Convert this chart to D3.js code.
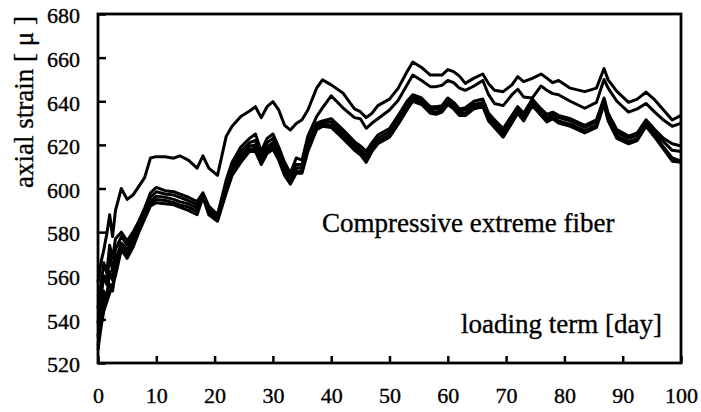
<!DOCTYPE html>
<html>
<head>
<meta charset="utf-8">
<script src="https://cdn.jsdelivr.net/npm/d3@7"></script>
<style>
body { margin: 0; background: #fff; }
text { font-family: "Liberation Serif", "Times New Roman", serif; fill: #000; stroke: #000; stroke-width: 0.35px; }
</style>
</head>
<body>
<div id="strain_chart"></div>
<script>
// loading term [day] of every reading (shared by all gauges)
const days = [0, 0.5, 1, 1.5, 2, 2.5, 3, 4, 5, 6, 7, 8, 9, 10,
  11.5, 13, 14, 15.5, 17, 18, 19, 20.5,
  22, 23, 24.5, 26, 27, 28, 29, 30, 31, 32, 33, 34, 35, 36, 37.5, 38.5,
  40, 42, 44, 45, 46, 47, 48, 50, 51.5, 53, 54, 55.5, 57, 58, 59, 60,
  61, 62, 63, 64.5, 66, 67, 68, 69.5, 71, 72, 73, 74.5, 76, 77, 78, 79,
  81, 83.5, 85.5, 86.8, 87.5, 89, 91, 92.5, 94,
  95.5, 97, 98.5, 100]

// axial strain of each gauge
const gaugeA = [557, 566, 572, 579, 588, 578, 590, 600, 595, 597, 601, 605, 614, 614.6,
  614.6, 613.9, 615, 613, 609.3, 615, 609.3, 606,
  624, 628.5, 633, 635.5, 637.5, 632.5, 637.5, 639.8, 636, 629, 626.8, 629.8, 631.5, 636, 646, 649.8,
  647.5, 643.8, 636.5, 635.2, 632.5, 634.5, 638, 641, 646, 653.5, 658, 655.5, 652, 652, 652, 654.5,
  653.6, 651.5, 648.2, 650.6, 652.5, 648, 645, 644.4, 647.5, 651.3, 649, 650.5, 652.5, 650.6, 648.5, 649.5,
  646, 644.4, 646, 655, 649.8, 644.5, 639.5, 641, 644.2,
  640.6, 636, 631.4, 633.5]
const gaugeB = [545, 556, 566, 561, 574, 568, 577, 580, 576, 580, 585, 591, 598, 600.5,
  599, 598.5, 597.5, 596, 594, 598, 592, 588,
  604, 612, 619, 623, 625, 617, 623, 625, 619, 612, 607, 614, 613, 624, 633, 637,
  642.5, 637, 632.5, 632, 627.6, 630, 632, 636, 640.5, 647.5, 652, 649.5, 646.7, 646.7, 647.3, 649.5,
  648.5, 646, 645, 647, 649.5, 643, 639, 638, 643, 645.5, 642, 641.5, 647, 645, 643.5, 643,
  640, 636.8, 639.5, 650, 646, 640, 635, 636.5, 639,
  635, 631.4, 628.5, 630]
const gaugeC = [538, 550, 560, 556, 570, 562, 572, 578, 574, 578, 583, 589, 596, 598.5,
  597.5, 597, 596, 594.5, 592.5, 597.5, 591, 587.5,
  602, 610, 617, 621, 622, 615, 621, 623, 617, 610, 605, 611, 611, 621, 630, 631,
  632, 627, 621.5, 619.5, 617, 621, 624.5, 627.5, 633.5, 640, 643, 641.5, 637.5, 637.5, 638, 641.5,
  639.5, 636.5, 637, 640, 641, 634.5, 631.5, 627.5, 633.5, 637.5, 634.5, 641, 636.5, 634, 635, 633.5,
  632, 629, 631.5, 641.5, 634.5, 627, 624, 625.5, 631.5,
  627, 623, 620.5, 619.5]
const gaugeD = [532, 545, 553, 550, 562, 558, 567, 575, 572, 576, 582, 588, 594, 596.5,
  596, 595, 594, 593, 591, 597, 590, 586.5,
  600.5, 608.5, 615, 619.5, 620, 613.5, 619, 621, 615.5, 608.5, 603.5, 609.5, 609.5, 619.5, 629, 630.5,
  630.5, 625.5, 620, 618, 615, 619.5, 623, 626, 632, 638.5, 642, 640.5, 636.5, 636.5, 637, 640.5,
  638.5, 635.5, 636, 638.5, 639.5, 633.5, 630.5, 626, 632.5, 636.5, 633.5, 640, 635.5, 632.5, 634, 632.5,
  631, 628, 630.5, 640.5, 633.5, 625.5, 623, 624.5, 630.5,
  625.5, 621.5, 617.5, 617]
const gaugeE = [528, 540, 548, 552, 556, 553, 562, 574, 570, 575, 581, 587, 593, 595,
  594.5, 593.5, 592.5, 591.5, 589.5, 596.5, 589, 586,
  599, 607, 613.5, 618, 618.5, 612, 617.5, 619.5, 614, 607, 602.5, 608, 608, 618, 628, 629.5,
  629, 624, 618.5, 616.5, 613.5, 618, 621.5, 624.5, 630.5, 637, 641, 639.5, 635.5, 635, 636, 639.5,
  637.5, 634.5, 634.5, 637.5, 638.5, 632, 629, 624.5, 631, 635.5, 632, 639, 634.5, 631.5, 633, 631,
  629.5, 626.5, 629, 639.5, 632, 624, 621.5, 623, 629.5,
  624.5, 619, 614, 612.5]
const gaugeF = [526, 536, 544, 548, 552, 556, 560, 572, 568, 573, 580, 586, 592, 593.5,
  593, 592.5, 591.5, 590, 588, 596, 588, 585,
  598, 606, 612, 617, 617, 611, 616, 618, 613, 606, 602, 607, 607, 617, 627, 628.5,
  628, 623, 617.5, 615.5, 612, 617, 620.5, 623.5, 629.5, 636, 640, 638.5, 634.5, 634, 635, 638.5,
  636.5, 633.5, 633.5, 636.5, 637.5, 631, 628, 623.5, 630, 634.5, 631, 638, 633.5, 630.5, 632, 630,
  628.5, 625.5, 628, 638.5, 631, 623, 620.5, 622, 628.5,
  623.5, 618, 612.5, 612]

const xTicks = [0, 10, 20, 30, 40, 50, 60, 70, 80, 90, 100]
const yTicks = [520, 540, 560, 580, 600, 620, 640, 660, 680]

// setup the dimensions
const margin = { top: 14, right: 20, bottom: 49, left: 98 }
const width = 701 - margin.left - margin.right
const height = 412 - margin.top - margin.bottom

const svg = d3.select("#strain_chart")
  .append("svg")
    .attr("width", width + margin.left + margin.right)
    .attr("height", height + margin.top + margin.bottom)
const chart = svg.append("g")
    .attr("transform", "translate(" + margin.left + "," + margin.top + ")")

const x = d3.scaleLinear().domain([0, 100]).range([0, width])
const y = d3.scaleLinear().domain([520, 680]).range([height, 0])

// x axis, ticks pointing into the plot
const xAxis = chart.append("g")
    .attr("transform", `translate(0,${height})`)
    .call(d3.axisBottom(x).tickValues(xTicks).tickSizeInner(-7).tickSizeOuter(0).tickPadding(24))
xAxis.select(".domain").remove()
xAxis.selectAll("line").attr("stroke", "#000").attr("stroke-width", 2.5)
xAxis.selectAll("text").attr("font-size", 22).attr("font-family", null)

// y axis
const yAxis = chart.append("g")
    .call(d3.axisLeft(y).tickValues(yTicks).tickSizeInner(-8).tickSizeOuter(0).tickPadding(18))
yAxis.select(".domain").remove()
yAxis.selectAll("line").attr("stroke", "#000").attr("stroke-width", 2.5)
yAxis.selectAll("text").attr("font-size", 22).attr("font-family", null).attr("dy", "0.4em")

// the series
const series = [gaugeA, gaugeB, gaugeC, gaugeD, gaugeE, gaugeF]
const line = d3.line()
    .x(function(d, i) { return x(days[i]) })
    .y(function(d) { return y(d) })

chart.selectAll(".gauge")
  .data(series)
  .enter().append("path")
    .attr("class", "gauge")
    .attr("fill", "none")
    .attr("stroke", "#000")
    .attr("stroke-width", 3)
    .attr("stroke-linejoin", "round")
    .attr("d", line)

// frame
chart.append("rect")
    .attr("width", width)
    .attr("height", height)
    .attr("fill", "none")
    .attr("stroke", "#000")
    .attr("stroke-width", 2.8)

// labels
svg.append("text")
    .attr("transform", "translate(33,102) rotate(-90)")
    .attr("text-anchor", "middle")
    .attr("font-size", 27)
    .text("axial strain [ \u03bc ]")

svg.append("text")
    .attr("x", 322)
    .attr("y", 232)
    .attr("font-size", 27)
    .text("Compressive extreme fiber")

svg.append("text")
    .attr("x", 461)
    .attr("y", 333)
    .attr("font-size", 27)
    .text("loading term [day]")
</script>
</body>
</html>
